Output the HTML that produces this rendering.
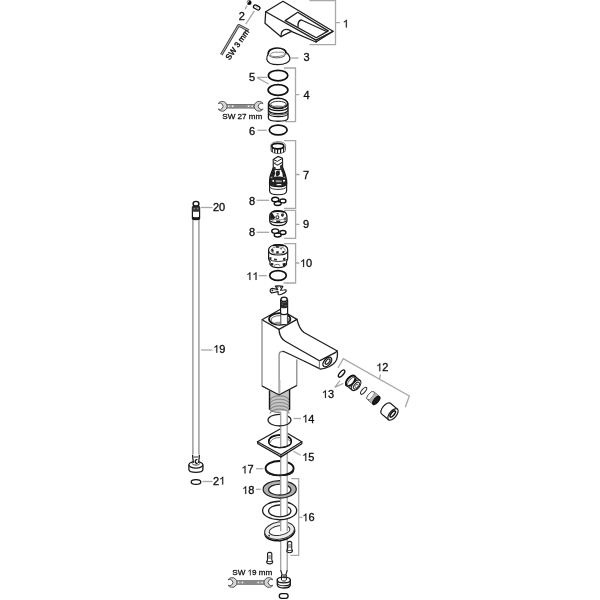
<!DOCTYPE html>
<html><head><meta charset="utf-8">
<style>
html,body{margin:0;padding:0;background:#fff;width:600px;height:600px;overflow:hidden}
svg{display:block;will-change:transform}
text{font-family:"Liberation Sans",sans-serif;fill:#111;stroke:#111;stroke-width:0.33}
.o{fill:none;stroke:#1f1f1f;stroke-width:1.3;stroke-linejoin:round;stroke-linecap:round}
.ow{fill:#fff;stroke:#1f1f1f;stroke-width:1.3;stroke-linejoin:round}
.gl{fill:none;stroke:#808080;stroke-width:1.2}
.g{fill:none;stroke:#a8a8a8;stroke-width:1.3}
.lb{font-size:11px}
.one{fill:#111;stroke:#111;stroke-width:14}
.sw{font-size:8.1px;stroke-width:0.28}
.dk{fill:none;stroke:#111;stroke-width:1.7}
</style></head><body>
<svg width="600" height="600" viewBox="0 0 600 600">
<defs>
  <path id="g1" d="M372,0 L284,0 L284,560 C263,540 235,520 200,499 C165,478 134,462 106,451 L106,536 C155,559 198,587 235,619 C272,651 298,682 313,712 L372,712 Z"/>
  <g id="wrench">
    <path d="M-14.5,-1.8 L14.5,-1.8 C15.5,-1.8 16,-2.6 17,-3 L17,3 C16,2.6 15.5,1.8 14.5,1.8 L-14.5,1.8 C-15.5,1.8 -16,2.6 -17,3 L-17,-3 C-16,-2.6 -15.5,-1.8 -14.5,-1.8 Z" fill="#9a9a9a" stroke="#666" stroke-width="0.9"/>
    <path d="M-6,0 L5.7,0" stroke="#888" stroke-width="2.2"/>
    <path d="M-12.7,0 h1.3 M-8.7,0 h1.3 M7.3,0 h1.3 M11,0 h1.3" stroke="#f4f4f4" stroke-width="1.5"/>
    <path d="M-22.5,-2.73 A4.9,4.9 0 1 1 -22.5,2.73 A3.2,3.2 0 1 0 -22.5,-2.73 Z" fill="#d6d6d6" stroke="#555" stroke-width="1"/>
    <path d="M22.5,-2.73 A4.9,4.9 0 1 0 22.5,2.73 A3.2,3.2 0 1 1 22.5,-2.73 Z" fill="#d6d6d6" stroke="#555" stroke-width="1"/>
  </g>
  <g id="ring3">
    <ellipse cx="-3.4" cy="-1.4" rx="3.6" ry="2.25" fill="none" stroke="#111" stroke-width="1.4"/>
    <ellipse cx="4.2" cy="0" rx="3.05" ry="1.95" fill="none" stroke="#111" stroke-width="1.4"/>
    <ellipse cx="-1" cy="2.6" rx="3.5" ry="1.95" fill="none" stroke="#111" stroke-width="1.4"/>
  </g>
</defs>

<!-- ===== Part 2 + allen key ===== -->
<g id="p2">
  <circle cx="249.2" cy="2.7" r="2.4" fill="#111"/>
  <path d="M247.2,3.8 L249.3,1 L248.2,0.8 L246.8,2.8 Z" fill="#ddd"/>
  <rect x="253.3" y="5.65" width="6.8" height="3.6" rx="1.8" transform="rotate(28 256.7 7.45)" fill="#fff" stroke="#111" stroke-width="1.3"/>
  <path d="M255,6.8 L257.5,7.4 M258,8 L259,8.3" stroke="#aaa" stroke-width="0.9" transform="rotate(28 256.7 7.45)"/>
  <line x1="254.4" y1="10.8" x2="245.8" y2="24.2" class="g" stroke-width="1"/>
  <line x1="246.9" y1="5.6" x2="245.2" y2="9.2" class="g" stroke-width="1"/>
  <g transform="translate(0.6,-0.3)"><text x="238.1" y="20.5" class="lb">2</text></g>
  <path d="M221.3,54.7 L238.7,25.3 L248.6,30.4" fill="none" stroke="#444" stroke-width="2.7" stroke-linejoin="round"/>
  <path d="M221.3,54.7 L238.7,25.3 L248.6,30.4" fill="none" stroke="#c8c8c8" stroke-width="0.9" stroke-linejoin="round"/>
  <text class="sw" style="font-size:7.95px;stroke-width:0.4" transform="translate(229.6,60.4) rotate(-55)">SW 3 mm</text>
</g>

<!-- ===== Part 1 handle ===== -->
<g id="p1">
  <path class="ow" stroke-width="1.2" d="M265.7,11.7 L283,1.3 L333,31.3 L316,42 L291.3,31.3 L281,36.7 L265,23.3 Z"/>
  <path class="o" stroke-width="1.2" d="M265.7,11.7 L316,40.1 L333,31.3 M316,40.1 L316,42"/>
  <path class="o" stroke-width="1.15" d="M285.2,20.6 L297.7,12.3 L328.3,30.9 L316.3,37.7 Z"/>
  <path class="o" stroke-width="1.2" d="M298,27 C297.8,23 299,20.2 301.5,20 L326.6,31.5"/>
  <path class="o" stroke-width="1.2" d="M281,36.7 C280.8,33 282.5,29.8 286,29.4 C288.5,29.3 290.3,30.3 291.3,31.3"/>
  <path class="g" d="M309.5,0.5 L335.5,0.5 L335.5,44.7 L309.5,44.7 M335.5,22.7 L340,22.7"/>
  <g transform="translate(-0.8,0)"><use href="#g1" transform="translate(343.50,27.5) scale(0.0110,-0.0110)" class="one"/></g>
</g>

<!-- ===== Part 3 ===== -->
<g id="p3">
  <path fill="#fff" stroke="#1f1f1f" stroke-width="1.2" d="M268.3,53.5 C267.2,55.5 266.6,57.5 266.8,59.3 C267.6,62.8 272.3,64.6 277.8,64.6 C284.6,64.6 289.9,62.3 289.9,58.6 C289.9,56.3 288.3,54 285.9,52.2"/>
  <path fill="none" stroke="#111" stroke-width="1.6" d="M268.3,54.2 C267.6,50.5 272,48 277,48 C282.5,48 286.5,50 285.9,53.5"/>
  <path fill="none" stroke="#555" stroke-width="1" d="M268.3,54.2 C269,56.8 273,57.8 277.3,57.8 C281.5,57.8 285.5,56.5 285.9,53.5"/>
  <path fill="none" stroke="#888" stroke-width="1" d="M270.2,55.2 C270.4,52.6 275,51.8 278.5,52.3 C282.5,51.6 285.1,52.8 284.6,54.3 C283.5,56.5 275,57 272,56.2 Z"/>
  <line x1="290.8" y1="58" x2="298.5" y2="58" class="g"/>
  <g transform="translate(0.2,-0.5)"><text x="303.2" y="61" class="lb">3</text></g>
</g>

<!-- ===== O-rings 5 ===== -->
<g id="p5">
  <ellipse cx="278.1" cy="75.6" rx="9.7" ry="5.3" class="dk"/>
  <ellipse cx="278" cy="90" rx="9.9" ry="5.3" class="dk"/>
  <text x="249" y="81" class="lb">5</text>
  <path class="g" d="M257,77.3 L267.3,77.3 M257,77.6 L268.7,84"/>
</g>

<!-- ===== Part 4 housing ===== -->
<g id="p4">
  <path class="ow" d="M268.4,103.5 L268.4,118 C268.6,122.3 287.8,122.3 288,118 L288,103.5"/>
  <path fill="none" stroke="#111" stroke-width="1.4" d="M268.5,107.6 C270,111.6 286.5,111.6 288,107.6 M268.5,110.6 C270,114.6 286.5,114.6 288,110.6"/>
  <path fill="none" stroke="#666" stroke-width="1.2" d="M268.5,111.8 C270,115.8 286.5,115.8 288,111.8"/>
  <path fill="none" stroke="#111" stroke-width="1.1" d="M268.5,113.6 C270,117.6 286.5,117.6 288,113.6"/>
  <ellipse cx="278.2" cy="103.4" rx="9.6" ry="5.1" fill="#fff" stroke="#111" stroke-width="1.5"/>
  <ellipse cx="278.4" cy="104.2" rx="7.8" ry="2.9" fill="none" stroke="#333" stroke-width="1"/>
  <path fill="none" stroke="#888" stroke-width="0.9" d="M271,107 C274,105.5 282,105.5 285.5,107.5"/>
  <path class="g" d="M284,68 L295.5,68 L295.5,121.7 L285,121.7 M295.5,94.7 L299.3,94.7"/>
  <g transform="translate(0.2,-0.5)"><text x="303.2" y="99" class="lb">4</text></g>
  <use href="#wrench" x="240.65" y="106.3"/>
  <text x="222.3" y="119" class="sw">SW 27 mm</text>
</g>

<!-- ===== O-ring 6 ===== -->
<g id="p6">
  <ellipse cx="278.2" cy="130" rx="8.9" ry="4.9" class="dk" stroke-width="1.7"/>
  <text x="249" y="134.9" class="lb">6</text>
  <line x1="257.5" y1="130.3" x2="266.7" y2="130.3" class="g"/>
</g>

<!-- ===== Part 7 ===== -->
<g id="p7">
  <path fill="#fff" stroke="#666" stroke-width="1" d="M271,145.5 L271,150.5 C272,154.5 284.5,154.5 285.5,150.5 L285.5,145.5"/>
  <ellipse cx="278.2" cy="145.5" rx="7.4" ry="3.9" fill="#fff" stroke="#888" stroke-width="1"/>
  <ellipse cx="277.8" cy="146.1" rx="6" ry="2.7" fill="none" stroke="#111" stroke-width="1.7"/>
  <path fill="none" stroke="#111" stroke-width="1.15" d="M272.2,148 L272.2,152 M274.8,148.6 L274.8,153 M277.6,148.9 L277.6,153.5 M280.6,148.8 L280.6,153.2 M283.7,148.1 L283.7,152.3"/>
  <!-- cartridge body -->
  <path fill="#fff" stroke="#1f1f1f" stroke-width="1.2" d="M269.6,180 L269.6,191 C270,196 286.2,196 286.6,191 L286.6,180 Z"/>
  <path fill="none" stroke="#333" stroke-width="1" d="M269.6,186.8 C271,190.3 285,190.3 286.6,186.8"/>
  <path fill="#fff" stroke="#111" stroke-width="1.4" d="M273.5,167.5 C272.5,170 271,173.5 270.2,176.5 C269.8,178 269.6,180 269.6,184 C271,187.5 285.5,187.5 286.6,184 C286.6,180 286.3,178 285.7,176.5 C285,173.5 283.5,170 282.5,167.5 Z"/>
  <path fill="#222" d="M269.8,178.5 C272,176.8 276,176.5 278.2,176.5 C281,176.5 284.5,177 286.4,178.5 L286.6,184 C285.5,187.2 271,187.2 269.6,184 Z"/>
  <path fill="#fff" d="M272.3,180.3 C273,179.8 274,180 274.2,180.6 L273.8,182 L272.4,181.6 Z M276.5,184.4 C278,184 280.5,184 281.5,184.4 L281.4,185.3 L276.6,185.3 Z M283,180 L285,179.8 L284.8,181.4 L283.2,181.8 Z"/>
  <path fill="#999" d="M275.5,180.6 C277.5,180 280.5,180.1 282,180.7 L281.5,182.2 L276,182.2 Z"/>
  <path fill="#1f1f1f" d="M270.5,176.8 L273.3,168 L275.5,168.6 L274.6,171.5 L275.5,173 L273.8,177 Z M276.3,171 L279.6,170.6 L280,174.2 L277.6,176.6 L275.8,175.5 Z M281.3,168.2 L283,168 L285.7,176.8 L282.8,177 L282.4,173 L281.2,171 Z"/>
  <path fill="#666" d="M274.5,168.8 L276,168.4 L276.2,170 L274.8,170.6 Z M279.5,168.5 L281.2,168.6 L280.8,170.2 Z"/>
  <!-- lever -->
  <path fill="#fff" stroke="#1f1f1f" stroke-width="1.15" stroke-linejoin="round" d="M273.2,159.4 L278,156.4 L282.5,158.3 L282.6,168.2 C281,170 275,170 273.3,168.4 Z"/>
  <path fill="none" stroke="#1f1f1f" stroke-width="1" d="M273.2,159.4 L277.4,161.4 L282.5,158.3"/>
  <path fill="none" stroke="#333" stroke-width="1.1" d="M273.6,163 L277.6,165.2 L282.4,162.2"/>
  <path fill="#2a2a2a" d="M279.8,166 L282.5,164 L282.6,168.3 L280.5,169.2 Z M273.4,166.5 L275.8,167.6 L275.5,169.3 L273.4,168.6 Z"/>
  <path fill="#888" d="M274.5,161.5 L276.2,162.4 L275.8,163.8 L274.3,163.2 Z"/>
  <path class="g" d="M284,140.6 L295.6,140.6 L295.6,208.3 L284,208.3 M295.6,174.5 L299.6,174.5"/>
  <text x="303" y="179" class="lb">7</text>
</g>

<!-- ===== Part 8 (two) ===== -->
<g id="p8">
  <use href="#ring3" x="278.7" y="200.9"/>
  <text x="249" y="205" class="lb">8</text>
  <line x1="256.7" y1="200.3" x2="269.3" y2="200.3" class="g"/>
  <use href="#ring3" x="278.7" y="232.5"/>
  <text x="249" y="236.3" class="lb">8</text>
  <line x1="256.7" y1="232.3" x2="269.3" y2="232.3" class="g"/>
</g>

<!-- ===== Part 9 ===== -->
<g id="p9">
  <path fill="#fff" stroke="#1a1a1a" stroke-width="1.3" d="M269.7,216 C269.5,212.5 273,210.6 278.2,210.6 C283.5,210.6 286.9,212.5 286.9,216 L286.9,221 C286.5,224.5 283,225.7 278.2,225.7 C273.5,225.7 270,224.5 269.7,221 Z"/>
  <path fill="none" stroke="#111" stroke-width="1.6" d="M272.5,212 C275,210.9 281,210.9 284.5,212.3"/>
  <path fill="#1a1a1a" d="M270.2,214 C271,213 272,212.8 272.6,213.5 L275.2,217.5 L273.2,220.5 L270.2,219.8 Z"/>
  <path fill="#333" d="M281.2,213.8 C282.5,213.2 284,213.8 284.2,214.8 L282.8,217 L281,216 Z"/>
  <circle cx="277.4" cy="217.3" r="1.5" fill="none" stroke="#333" stroke-width="1.1"/>
  <path fill="#555" d="M276.2,213 L279,213.2 L278,215 Z M283.5,218 L286.5,217 L286.5,220 L284,220.5 Z"/>
  <path fill="none" stroke="#1a1a1a" stroke-width="1.1" d="M270.5,221 C273,223.2 283.5,223.2 286.2,221"/>
  <path fill="#222" d="M276,220.5 L280.5,220.5 L280,222.6 L276.5,222.6 Z"/>
  <path fill="none" stroke="#888" stroke-width="0.9" d="M271.5,219 C274.5,220 282,220 285.5,219"/>
  <path class="g" d="M284,210.3 L295.6,210.3 L295.6,238.3 L284,238.3 M295.6,224.3 L299.6,224.3"/>
  <text x="303" y="228.3" class="lb">9</text>
</g>

<!-- ===== Part 10 ===== -->
<g id="p10">
  <path fill="#fff" stroke="#1a1a1a" stroke-width="1.2" d="M268.6,250 C268.6,246.5 273,244.7 278.2,244.7 C283.5,244.7 287.7,246.5 287.7,250 L287.7,258.3 C287.7,259.8 287.2,260.8 286.5,261.4 L286.5,264.3 C285.5,266.8 281.5,267.6 278.2,267.6 C275,267.6 271,266.8 270,264.3 L270,261.4 C269.2,260.8 268.6,259.8 268.6,258.3 Z"/>
  <path fill="none" stroke="#1a1a1a" stroke-width="1.1" d="M268.8,251.5 C270.5,256.2 285.8,256.2 287.5,251.5"/>
  <path fill="none" stroke="#333" stroke-width="1" d="M269,258.8 C271,262.3 285.5,262.3 287.3,258.8"/>
  <path fill="none" stroke="#111" stroke-width="1.5" d="M273,245.6 C276,244.8 281,244.8 284,245.8"/>
  <ellipse cx="278.2" cy="250.3" rx="7" ry="3.6" fill="none" stroke="#777" stroke-width="0.9"/>
  <path fill="#1a1a1a" d="M271.2,249 L273.3,249.2 L273.8,251.8 L271.8,251.5 Z M276.2,251.2 L278.8,251.2 L278.6,253.5 L276.4,253.4 Z M282.2,251.2 L284.3,251 L284,253 L282.5,253 Z M275.8,246.2 L279.2,246.2 L278.8,247.8 L276.2,247.8 Z"/>
  <path fill="#444" d="M279.5,248.5 L282,248 L281.5,249.8 Z"/>
  <path fill="#222" d="M269.5,257 L271.6,257.6 L271.2,260 L269.4,259.3 Z M274,258.6 L277,259 L276.6,260.5 L274.2,260.2 Z M283,258.3 L285.5,257.6 L285.2,259.8 L283.2,260.3 Z"/>
  <path fill="#1a1a1a" d="M270.8,263 L273.4,263.2 L273.2,265.5 L271.2,265.2 Z M282.5,263.5 C283.5,262.8 285,262.8 285.8,263.2 L285.5,265.8 L283,266.2 Z"/>
  <path fill="none" stroke="#555" stroke-width="0.9" d="M274,265.5 C275.5,264 279,264 280.2,265.6"/>
  <path class="g" d="M284,243.7 L295.6,243.7 L295.6,283 L283.5,283 M295.6,263 L299.4,263"/>
  <g transform="translate(-0.5,0)"><use href="#g1" transform="translate(300.50,267) scale(0.0110,-0.0110)" class="one"/><text x="306.62" y="267" class="lb" xml:space="preserve">0</text></g>
</g>

<!-- ===== O-ring 11 ===== -->
<g id="p11">
  <ellipse cx="278" cy="275.5" rx="8.3" ry="4.8" class="dk" stroke-width="1.8"/>
  <g transform="translate(-0.7,-0.3)"><use href="#g1" transform="translate(247.00,280.3) scale(0.0110,-0.0110)" class="one"/><use href="#g1" transform="translate(253.12,280.3) scale(0.0110,-0.0110)" class="one"/></g>
  <line x1="258.7" y1="275.7" x2="266.7" y2="275.7" class="g"/>
</g>

<!-- ===== clip ===== -->
<g id="clip">
  <path fill="#fff" stroke="#1a1a1a" stroke-width="1.15" stroke-linejoin="round" d="M272.5,288.3 C271,288.3 270,289.5 270.2,290.8 C270.4,292.3 271.3,293 272.5,292.8 L278.2,291.6 C278.2,292.5 277.8,293.5 278.2,294.3 C278.8,295 281,294.6 283,293.5 C285.3,292.5 286.5,291.5 286.2,290.3 C286,289.6 285,289.7 284,290 L280.5,290.3 L282.9,286.4 C281,285.8 277.5,285.8 275.3,286.1 L277.8,289.6 Z"/>
  <circle cx="272.4" cy="290.4" r="0.9" fill="#222"/>
  <path fill="#333" d="M276,286.3 L278,286.2 L278.6,288.2 Z M280,286.2 L282.3,286.5 L280.2,288.6 Z"/>
  <path fill="none" stroke="#777" stroke-width="0.7" d="M273.5,289.6 L277.5,290.2"/>
</g>

<!-- ===== stem on body ===== -->


<!-- ===== Faucet body ===== -->
<g id="body">
  <path fill="#fff" stroke="none" d="M262,319.8 L280,309.5 L297,319.4 C298,324 299.5,329 304,332.5 L336.9,350.8 L337.5,353.4 L335.1,362.2 L327.5,368 L320.5,369.2 L305,361.5 L296.8,359.5 L296.8,385.5 L279,395 L262,386 Z"/>
  <!-- top face -->
  <path class="o" stroke-width="1.2" d="M262,319.8 L280,309.5 L297,319.4 L279,329.4 Z"/>
  <ellipse cx="279.7" cy="319.1" rx="10.7" ry="5.9" fill="#fff" stroke="#111" stroke-width="1.7"/>
  <ellipse cx="280" cy="320" rx="9" ry="4.4" fill="none" stroke="#555" stroke-width="0.9"/>
  <path fill="#999" d="M274.5,322.5 C276,321.5 279,321.5 280.5,322 L280.5,324.5 C278,324.8 275.5,324.3 274.5,322.5 Z"/>
  <rect x="280.8" y="310" width="6.6" height="14" fill="#fff"/>
  <path fill="none" stroke="#444" stroke-width="1" d="M280.8,310 L280.8,324.5 M287.4,310 L287.4,323.8"/>
  <path fill="#fff" stroke="#1a1a1a" stroke-width="1.2" d="M280.6,299.5 L280.6,313.5 C282,315 286,315 287.6,313.5 L287.6,299.5"/>
  <ellipse cx="284.1" cy="299.3" rx="3.1" ry="2.2" fill="#fff" stroke="#1a1a1a" stroke-width="1.3"/>
  <path fill="#2a2a2a" d="M280.6,301 C281.5,302.8 286.7,302.8 287.6,301 L287.6,307.2 C286.5,308.6 281.5,308.6 280.6,307.2 Z"/>
  <path fill="none" stroke="#888" stroke-width="0.6" d="M281.5,304 L283,304.4 M284.5,305.8 L286.5,305.5"/>
  <!-- edges -->
  <path class="gl" d="M262,319.8 L262,386 L279,395 L296.8,385.5 L296.8,359.5"/>
  <path class="gl" d="M279.1,395 L279.1,354.5 C279.1,352.5 280.5,351.3 282.9,351.3"/>
  <path class="o" stroke-width="1.2" d="M297,319.4 C298,324 299.5,329 304,332.5 L336.9,350.8"/>
  <path class="o" stroke-width="1.2" d="M279,329.4 C279.2,333.5 280.5,337 283,339.5 C284,340.5 285,341.2 286.5,342 L319.4,360.8 L335.7,352.3 L336.9,350.8"/>
  <path class="o" stroke-width="1.3" d="M282.9,351.3 C283.8,351.3 284.3,351.6 285,352 L305,361.5"/>
  <path class="o" stroke-width="1.2" d="M336.9,350.8 C338.5,354 337,360 335.1,362.2 C332,366 326,368.5 320.5,369.2 L305,361.5"/>
  <path class="gl" d="M319.4,360.8 L319.4,368.5"/>
  <ellipse cx="327.3" cy="362" rx="5.6" ry="3.2" transform="rotate(-49 327.3 362)" fill="none" stroke="#1a1a1a" stroke-width="1.4"/>
  <ellipse cx="327.6" cy="361.6" rx="3.2" ry="1.6" transform="rotate(-49 327.6 361.6)" fill="none" stroke="#222" stroke-width="1.2"/>
  <!-- thread shank -->
  <path fill="#c6c6c6" stroke="none" d="M269.5,390.5 L279,395.3 L289.6,389.6 L289.6,409.8 C287,413.6 272,413.6 269.5,409.4 Z"/>
  <path fill="none" stroke="#8a8a8a" stroke-width="1.15" d="M269.8,400.4 C272.5,394.4 286.8,394.4 289.4,400.4 M269.8,403.7 C272.5,397.7 286.8,397.7 289.4,403.7 M269.8,407.0 C272.5,401.0 286.8,401.0 289.4,407.0 M269.8,410.3 C272.5,404.3 286.8,404.3 289.4,410.3 M269.8,413.6 C272.5,407.6 286.8,407.6 289.4,413.6"/>
  <path fill="none" stroke="#777" stroke-width="1" d="M269.6,409.4 C272,413.4 287,413.6 289.5,409.8"/>
  <path fill="none" stroke="#1a1a1a" stroke-width="1.4" d="M269.5,390.7 L269.5,409.5 M289.6,389.8 L289.6,410"/>
  <path fill="none" stroke="#222" stroke-width="1.1" d="M262,386 L279,395 L296.8,385.5"/>
</g>

<!-- ===== rod lines ===== -->
<g id="rodtop">
  <line x1="279.8" y1="380" x2="279.8" y2="394" stroke="#b0b0b0" stroke-width="1.2"/>
</g>
<defs>
  <clipPath id="c14"><rect x="279.2" y="420.2" width="9" height="10"/></clipPath>
  <clipPath id="c15"><rect x="279.2" y="441.6" width="9" height="18"/></clipPath>
  <clipPath id="c17"><rect x="279.2" y="468.4" width="9" height="12"/></clipPath>
  <clipPath id="c18"><rect x="279.2" y="489.5" width="9" height="12"/></clipPath>
  <clipPath id="c16"><rect x="279.2" y="511" width="9" height="12"/></clipPath>
  <clipPath id="c16p"><rect x="279.2" y="531.5" width="9" height="12"/></clipPath>
</defs>

<!-- ===== O-ring 14 ===== -->
<g id="s14"><ellipse cx="279.5" cy="420.1" rx="11.5" ry="5.8" fill="none" stroke="#1f1f1f" stroke-width="1.2"/></g>
<g id="p14">
  <line x1="293.5" y1="418.5" x2="301" y2="418.5" class="g"/>
  <g transform="translate(0.2,-0.5)"><use href="#g1" transform="translate(302.00,423) scale(0.0110,-0.0110)" class="one"/><text x="308.12" y="423" class="lb" xml:space="preserve">4</text></g>
</g>

<!-- ===== plate 15 ===== -->
<g id="s15">
  <path fill="#fff" fill-rule="evenodd" stroke="#1f1f1f" stroke-width="1.3" stroke-linejoin="round" d="M257.5,441.7 L280.1,429 L301.8,441.7 L301.8,443.8 L281,456.9 L257.9,443.8 Z M268.6,441.4 A11.4,6.3 0 1 0 291.4,441.4 A11.4,6.3 0 1 0 268.6,441.4 Z"/>
  <path class="o" d="M257.5,441.7 L281,454.7 L301.8,441.7 M281,454.7 L281,456.9"/>
  <ellipse cx="280" cy="441.4" rx="11.4" ry="6.3" fill="none" stroke="#1f1f1f" stroke-width="1.1"/>
  <path fill="none" stroke="#111" stroke-width="1.5" d="M268.7,441.6 C269,437 274,435.1 280,435.1 C286,435.1 291,437 291.4,441.2"/>
  <path fill="none" stroke="#666" stroke-width="0.9" d="M270,443.2 C271,439.2 275,437.6 280,437.6 C285,437.6 289.5,439.2 290.5,442.2"/>
</g>
<g id="p15">
  <path class="g" d="M293.3,451.3 L300.7,455.3"/>
  <g transform="translate(-0.8,0.2)"><use href="#g1" transform="translate(303.00,460.7) scale(0.0110,-0.0110)" class="one"/><text x="309.12" y="460.7" class="lb" xml:space="preserve">5</text></g>
</g>

<!-- ===== 17 ===== -->
<g id="s17">
  <ellipse cx="279.6" cy="468.2" rx="14" ry="7.2" fill="none" stroke="#111" stroke-width="1.9"/>
  <path fill="none" stroke="#222" stroke-width="1.1" d="M265.8,470.5 C267.5,477 292,477.5 293.8,470.5"/>
</g>
<g id="p17">
  <g transform="translate(-1.1,0.2)"><use href="#g1" transform="translate(242.50,473.3) scale(0.0110,-0.0110)" class="one"/><text x="248.62" y="473.3" class="lb" xml:space="preserve">7</text></g>
  <line x1="256" y1="468.7" x2="263.3" y2="468.7" class="g"/>
</g>

<!-- ===== 18 ===== -->
<g id="s18">
  <path fill="#b0b0b0" fill-rule="evenodd" stroke="#1f1f1f" stroke-width="1.2" d="M263.1,489.3 A16.6,8.75 0 1 0 296.3,489.3 A16.6,8.75 0 1 0 263.1,489.3 Z M268.6,489.7 A11.15,5.45 0 1 0 290.9,489.7 A11.15,5.45 0 1 0 268.6,489.7 Z"/>
</g>
<g id="p18">
  <g transform="translate(-0.4,0)"><use href="#g1" transform="translate(242.50,494) scale(0.0110,-0.0110)" class="one"/><text x="248.62" y="494" class="lb" xml:space="preserve">8</text></g>
  <line x1="256" y1="489.3" x2="260.7" y2="489.3" class="g"/>
</g>

<!-- ===== 16 ===== -->
<g id="s16">
  <path fill="#fff" fill-rule="evenodd" stroke="#1f1f1f" stroke-width="1.3" d="M262.6,510.5 A17.05,9.25 0 1 0 296.7,510.5 A17.05,9.25 0 1 0 262.6,510.5 Z M268.6,510.9 A11.15,5.9 0 1 0 290.9,510.9 A11.15,5.9 0 1 0 268.6,510.9 Z"/>
</g>
<g id="s16p">
  <g transform="rotate(-9 279.6 531)">
    <ellipse cx="279.6" cy="532" rx="15" ry="8.6" fill="#fff" stroke="#111" stroke-width="1.5"/>
    <ellipse cx="279.6" cy="530.6" rx="15" ry="8.6" fill="#ececec" stroke="#333" stroke-width="1"/>
    <ellipse cx="279.6" cy="530.5" rx="10.5" ry="4.8" fill="#fff" stroke="#333" stroke-width="1"/>
    <circle cx="268.5" cy="534" r="0.9" fill="#333"/>
  </g>
</g>
<!-- rod (white bar with gray edges) -->
<g id="rod">
  <rect x="280.7" y="411" width="6.5" height="159" fill="#fff"/>
  <line x1="280.7" y1="412" x2="280.7" y2="570" stroke="#a0a0a0" stroke-width="1.3"/>
  <line x1="287.2" y1="411" x2="287.2" y2="570" stroke="#a0a0a0" stroke-width="1.3"/>
</g>
<use href="#s14" clip-path="url(#c14)"/>
<use href="#s15" clip-path="url(#c15)"/>
<use href="#s17" clip-path="url(#c17)"/>
<use href="#s18" clip-path="url(#c18)"/>
<use href="#s16" clip-path="url(#c16)"/>
<use href="#s16p" clip-path="url(#c16p)"/>
<g id="p16">
  <!-- screws -->
  <path fill="#fff" stroke="#1f1f1f" stroke-width="1.1" d="M287.6,542.5 L287.6,549 L286.8,550.5 C286.8,553.5 292.5,553.5 292.5,550.5 L291.7,549 L291.7,542.5 C291,541 288.3,541 287.6,542.5 Z"/>
  <path fill="none" stroke="#444" stroke-width="0.9" d="M287.6,545 L291.7,545 M287.6,547 L291.7,547 M287,550.5 L292.3,550.5"/>
  <path fill="#fff" stroke="#1f1f1f" stroke-width="1.1" d="M267.5,553.5 L267.5,560 L266.6,561.5 C266.6,564.7 272.7,564.7 272.7,561.5 L271.8,560 L271.8,553.5 C271.1,552 268.2,552 267.5,553.5 Z"/>
  <path fill="none" stroke="#444" stroke-width="0.9" d="M267.5,556 L271.8,556 M267.5,558 L271.8,558 M266.8,561.5 L272.5,561.5"/>
  <path class="g" d="M291.3,478.7 L298.7,478.7 L298.7,555.3 L290.4,555.3 M298.7,517.3 L302.5,517.3"/>
  <g transform="translate(-0.7,0)"><use href="#g1" transform="translate(303.00,521.3) scale(0.0110,-0.0110)" class="one"/><text x="309.12" y="521.3" class="lb" xml:space="preserve">6</text></g>
  <use href="#wrench" x="250.5" y="582.5"/>
  <text x="232.30" y="575.3" class="sw">SW </text><use href="#g1" transform="translate(247.60,575.3) scale(0.0081,-0.0081)" class="one"/><text x="252.10" y="575.3" class="sw" xml:space="preserve">9 mm</text>
  <!-- bottom fitting -->
  <path fill="#fff" stroke="#1a1a1a" stroke-width="1.1" d="M280.7,570 C281,572 282,573.5 282,575 L286,575 C286,573.5 287,572 287.2,570"/>
  <path fill="#fff" stroke="#1a1a1a" stroke-width="1.3" d="M277.3,580 L277.3,585 C278,589 289.5,589 290.3,585 L290.3,580 Z"/>
  <path fill="none" stroke="#1a1a1a" stroke-width="1.1" d="M277.5,583.3 C278.5,586.5 289.5,586.5 290.2,583.3"/>
  <ellipse cx="283.8" cy="580" rx="6.5" ry="2.9" fill="#fff" stroke="#1a1a1a" stroke-width="1.3"/>
  <path fill="none" stroke="#1a1a1a" stroke-width="1" d="M281.5,575 L281.5,580 C282.5,581.5 285.5,581.5 286.3,580 L286.3,575"/>
  <circle cx="284.2" cy="577" r="0.9" fill="none" stroke="#333" stroke-width="0.8"/>
  <rect x="279.3" y="593.7" width="8.8" height="4.6" rx="2.3" fill="#fff" stroke="#111" stroke-width="1.3"/>
</g>

<!-- ===== hose 19/20/21 ===== -->
<g id="hose">
  <line x1="192.9" y1="219" x2="192.9" y2="457" stroke="#9c9c9c" stroke-width="1.5"/>
  <line x1="198.9" y1="219" x2="198.9" y2="457" stroke="#9c9c9c" stroke-width="1.5"/>
  <path fill="#fff" stroke="#1a1a1a" stroke-width="1.2" d="M192.4,207 L192.4,218.5 C193,220 199,220 199.6,218.5 L199.6,207"/>
  <path fill="#333" d="M192.2,206 C193,205 199,205 199.8,206 L199.8,211.2 C199,212 193,212 192.2,211.2 Z"/>
  <path fill="#888" d="M193.5,208 L195.2,208.3 L195,209.8 L193.6,209.4 Z M196.8,207.6 L198.4,208 L198.2,209.5 L196.6,209.2 Z"/>
  <path fill="#1a1a1a" d="M192.3,216.5 C193,217.6 199,217.6 199.7,216.5 L199.7,219 C199,220.2 193,220.2 192.3,219 Z"/>
  <ellipse cx="196" cy="203.7" rx="2.9" ry="2.3" fill="#fff" stroke="#111" stroke-width="1.4"/>
  <line x1="201" y1="207.5" x2="212.5" y2="207.5" class="g"/>
  <text x="212.9" y="211.1" class="lb">20</text>
  <line x1="201" y1="350" x2="212.5" y2="350" class="g"/>
  <g transform="translate(-0.3,0.3)"><use href="#g1" transform="translate(213.50,352.5) scale(0.0110,-0.0110)" class="one"/><text x="219.62" y="352.5" class="lb" xml:space="preserve">9</text></g>
  <path fill="#fff" stroke="#1a1a1a" stroke-width="1.3" d="M188.9,465.5 L188.9,469.6 C189.6,473.2 202.2,473.2 202.9,469.6 L202.9,465.5 Z"/>
  <ellipse cx="195.9" cy="464.8" rx="7" ry="3.3" fill="#fff" stroke="#1a1a1a" stroke-width="1.3"/>
  <path fill="none" stroke="#333" stroke-width="1" d="M192.2,463.5 C192.5,465.6 199.5,465.6 199.8,463.5"/>
  <path fill="#fff" stroke="none" d="M192.6,454.5 L199.4,454.5 C199.4,457 199,459.5 198.6,462.8 L193.4,462.8 C193,459.5 192.6,457 192.6,454.5 Z"/>
  <path fill="none" stroke="#1a1a1a" stroke-width="1.2" d="M192.6,455 C192.6,457.5 193,460 193.5,462.8 M199.4,455 C199.4,457.5 199,460 198.5,462.8"/>
  <rect x="193" y="456" width="6" height="2" fill="#999"/>
  <path fill="none" stroke="#111" stroke-width="1.3" d="M197.4,459.7 C195.7,459.4 195.1,460.5 195.3,461.9 C195.5,463.2 196.5,463.6 197.5,463.2"/>
  <ellipse cx="196" cy="482" rx="4.8" ry="2.4" fill="#fff" stroke="#111" stroke-width="1.3"/>
  <line x1="202.5" y1="481.5" x2="212.5" y2="481.5" class="g"/>
  <g transform="translate(-0.3,0)"><text x="213.30" y="484.5" class="lb">2</text><use href="#g1" transform="translate(219.42,484.5) scale(0.0110,-0.0110)" class="one"/></g>
</g>

<!-- ===== aerator 12/13 ===== -->
<g id="p12">
  <path class="g" d="M338,368 L343.3,358.7 L409.3,396 L405.3,407.3 M379.5,378.6 L380.5,374.5"/>
  <g transform="translate(-0.8,-0.3)"><use href="#g1" transform="translate(377.00,371.5) scale(0.0110,-0.0110)" class="one"/><text x="383.12" y="371.5" class="lb" xml:space="preserve">2</text></g>
  <ellipse cx="341.60" cy="373.60" rx="4.40" ry="1.85" transform="rotate(130.0 341.60 373.60)" fill="none" stroke="#111" stroke-width="1.4"/>
  <path d="M352.11,390.05 L346.61,385.55 A6.20,3.41 130.0 0 1 354.59,376.05 L360.09,380.55 Z" fill="#fff" stroke="#1a1a1a" stroke-width="1.2" stroke-linejoin="round"/>
  <ellipse cx="350.60" cy="380.80" rx="6.20" ry="3.41" transform="rotate(130.0 350.60 380.80)" fill="none" stroke="#111" stroke-width="1.9"/>
  <ellipse cx="352.06" cy="382.02" rx="5.70" ry="3.14" transform="rotate(130.0 352.06 382.02)" fill="none" stroke="#555" stroke-width="1.0"/>
  <ellipse cx="356.10" cy="385.30" rx="6.20" ry="3.41" transform="rotate(130.0 356.10 385.30)" fill="#fff" stroke="#1a1a1a" stroke-width="1.2"/>
  <ellipse cx="356.50" cy="385.70" rx="4.00" ry="2.20" transform="rotate(130.0 356.50 385.70)" fill="none" stroke="#333" stroke-width="1.1"/>
  <ellipse cx="356.70" cy="386.00" rx="2.00" ry="1.20" transform="rotate(130.0 356.70 386.00)" fill="none" stroke="#555" stroke-width="0.9"/>
  <ellipse cx="363.60" cy="390.80" rx="4.30" ry="1.72" transform="rotate(130.0 363.60 390.80)" fill="none" stroke="#333" stroke-width="1.1"/>
  <path d="M373.09,404.23 L367.39,399.43 A5.00,2.25 130.0 0 1 373.81,391.77 L379.51,396.57 Z" fill="#fff" stroke="#444" stroke-width="1.0" stroke-linejoin="round"/>
  <ellipse cx="370.60" cy="395.60" rx="5.00" ry="2.25" transform="rotate(130.0 370.60 395.60)" fill="#fff" stroke="#666" stroke-width="0.9"/>
  <path d="M368.54,400.39 L373.09,404.23 L379.51,396.57 L374.96,392.73 Z" fill="#9a9a9a"/>
  <line x1="369.63" y1="400.80" x2="375.55" y2="393.75" stroke="#e0e0e0" stroke-width="0.5"/>
  <line x1="370.40" y1="401.44" x2="376.31" y2="394.39" stroke="#e0e0e0" stroke-width="0.5"/>
  <line x1="371.17" y1="402.08" x2="377.08" y2="395.03" stroke="#e0e0e0" stroke-width="0.5"/>
  <line x1="371.93" y1="402.72" x2="377.85" y2="395.68" stroke="#e0e0e0" stroke-width="0.5"/>
  <ellipse cx="376.30" cy="400.40" rx="5.00" ry="2.25" transform="rotate(130.0 376.30 400.40)" fill="#1a1a1a" stroke="#111" stroke-width="1.1"/>
  <path d="M388.56,419.69 L381.56,413.89 A6.90,3.45 130.0 0 1 390.44,403.31 L397.44,409.11 Z" fill="#fff" stroke="#1a1a1a" stroke-width="1.2" stroke-linejoin="round"/>
  <ellipse cx="393.00" cy="414.40" rx="6.90" ry="3.45" transform="rotate(130.0 393.00 414.40)" fill="#fff" stroke="#1a1a1a" stroke-width="1.2"/>
  <ellipse cx="392.70" cy="414.00" rx="3.80" ry="1.52" transform="rotate(130.0 392.70 414.00)" fill="none" stroke="#111" stroke-width="1.5"/>

  <path class="g" d="M334.7,387.3 L340,380.7 M334.7,387.3 L343.3,383.3"/>
  <g transform="translate(-0.2,0)"><use href="#g1" transform="translate(322.00,398) scale(0.0110,-0.0110)" class="one"/><text x="328.12" y="398" class="lb" xml:space="preserve">3</text></g>
</g>

</svg>
</body></html>
